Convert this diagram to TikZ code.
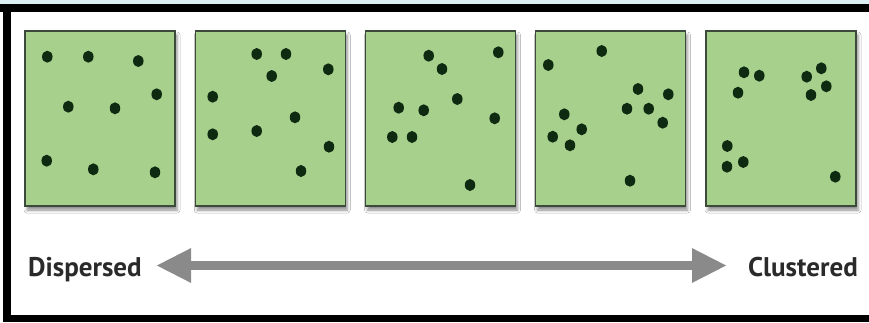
\documentclass[tikz,border=0pt]{standalone}
\usepackage{fontspec}
\setmainfont{PT Sans}
\usetikzlibrary{arrows.meta,shadows.blur,shapes.geometric}
\definecolor{boxgreen}{HTML}{A7D08C}
\definecolor{boxedge}{HTML}{3B4A3B}
\definecolor{dotcol}{HTML}{0E2A10}
\definecolor{arrowgray}{HTML}{8A8A8A}
\definecolor{topband}{HTML}{DCEFF2}
\definecolor{labelcol}{HTML}{2A2A2A}
\tikzset{
  fieldbox/.style={draw=boxedge, line width=1.4pt, fill=boxgreen, minimum width=150pt, minimum height=175pt, inner sep=0pt,
    blur shadow={shadow xshift=2pt, shadow yshift=-4pt, shadow blur radius=3pt, shadow opacity=45}},
  pt/.style={ellipse, fill=dotcol, minimum width=10.5pt, minimum height=12pt, inner sep=0pt},
  lbl/.style={font=\bfseries\fontsize{27}{30}\selectfont, text=labelcol, inner sep=0pt},
  bigarrow/.style={draw=arrowgray, line width=9pt, {Triangle[length=35pt,width=32pt]}-{Triangle[length=35pt,width=32pt]}}
}
\begin{document}
\begin{tikzpicture}[x=1pt,y=-1pt]
\useasboundingbox (0,0) rectangle (869,322);
\fill[white] (0,0) rectangle (869,322);
\fill[topband] (0,0) rectangle (869,4);
% frame
\fill[black] (0,4) rectangle (869,12);
\fill[black] (3,4) rectangle (11,322);
\fill[black] (3,315) rectangle (869,322);
% boxes
\node[fieldbox] (b1) at (100,118.5) {};
\node[fieldbox] (b2) at (270.25,118.5) {};
\node[fieldbox] (b3) at (440.5,118.5) {};
\node[fieldbox] (b4) at (610.5,118.5) {};
\node[fieldbox] (b5) at (781,118.5) {};
% box 1
\foreach \x/\y [count=\i] in {47.3/56.7, 88.3/56.7, 138.3/61, 156.7/94.3, 68.3/106.7, 115/108.3, 46.7/160.7, 93.3/169.3, 155/172.3}
  \node[pt] (p1-\i) at (\x,\y) {};
% box 2
\foreach \x/\y [count=\i] in {256.7/54, 286/54, 271.7/76, 328.3/69.3, 212.7/96.7, 295/117.3, 212.7/134.3, 256.7/131, 329/146.7, 301/171}
  \node[pt] (p2-\i) at (\x,\y) {};
% box 3
\foreach \x/\y [count=\i] in {428.7/55.7, 442/69, 498.3/52.3, 457.3/99, 398.7/107.7, 423.7/110.3, 494.7/118.3, 392.3/137, 412/137, 470/185}
  \node[pt] (p3-\i) at (\x,\y) {};
% box 4
\foreach \x/\y [count=\i] in {601.7/51, 548.3/65, 638/89, 668.3/94.3, 627/108.7, 648.7/108.7, 662.7/122.7, 564.3/114.3, 581.7/129.3, 552.7/136.7, 570/145.3, 630/180.7}
  \node[pt] (p4-\i) at (\x,\y) {};
% box 5
\foreach \x/\y [count=\i] in {744/72.3, 759.3/75.7, 738/92.7, 806.7/76.7, 821.3/68.3, 826.3/86.3, 811/95, 727.3/146, 727/166.7, 743.3/162, 835.3/176.7}
  \node[pt] (p5-\i) at (\x,\y) {};
% arrow and labels
\coordinate (aL) at (156,265.5);
\coordinate (aR) at (727,265.5);
\draw[bigarrow] (aL) -- (aR);
\node[lbl, anchor=base west] (disp) at (28,276) {Dispersed};
\node[lbl, anchor=base east] (clus) at (858,276) {Clustered};
\end{tikzpicture}
\end{document}
